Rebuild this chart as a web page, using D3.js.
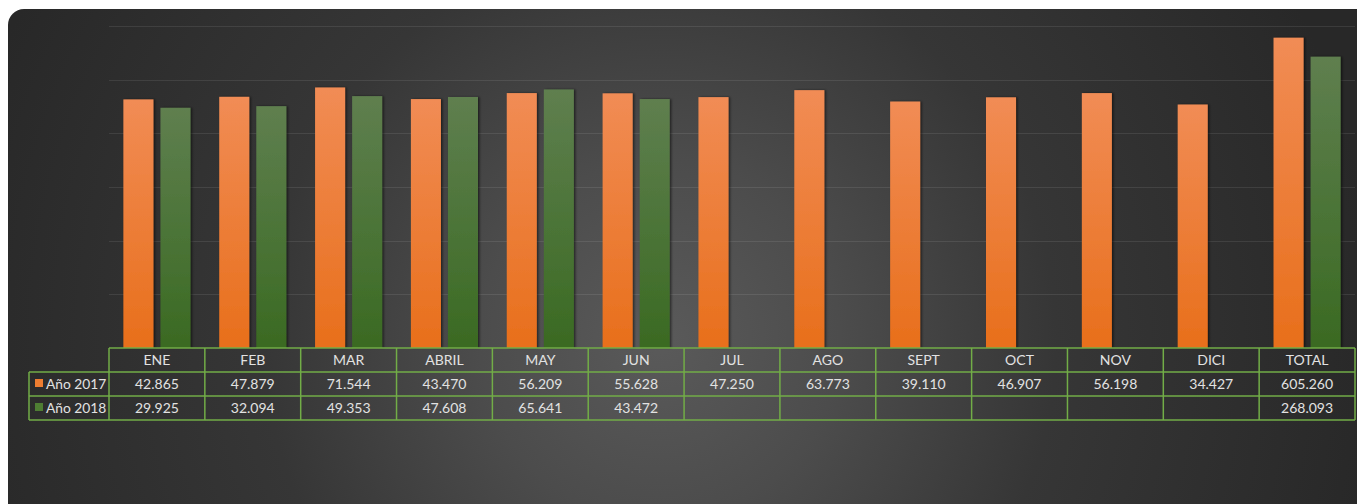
<!DOCTYPE html>
<html>
<head>
<meta charset="utf-8">
<script src="https://cdn.jsdelivr.net/npm/d3@7"></script>
<style>
  html, body { margin: 0; padding: 0; background: #ffffff; }
  svg { display: block; }
  text { font-family: Lato, "Open Sans", sans-serif; }
</style>
</head>
<body>
<svg id="chart" width="1357" height="504"></svg>
<script>
// Monthly totals per year, with the yearly total as the last column
const categories = ["ENE", "FEB", "MAR", "ABRIL", "MAY", "JUN", "JUL", "AGO", "SEPT", "OCT", "NOV", "DICI", "TOTAL"];
const seriesNames = ["Año 2017", "Año 2018"];
const values2017 = [42865, 47879, 71544, 43470, 56209, 55628, 47250, 63773, 39110, 46907, 56198, 34427, 605260];
const values2018 = [29925, 32094, 49353, 47608, 65641, 43472, null, null, null, null, null, null, 268093];
const yTicks = [1e1, 1e2, 1e3, 1e4, 1e5, 1e6];

const plotLeft = 109, plotRight = 1355, plotTop = 26, plotBase = 348;
const rowH = 24;

const es = d3.formatLocale({ decimal: ",", thousands: ".", grouping: [3], currency: ["", "€"] });
const fmt = es.format(",d");

const svg = d3.select("#chart");
const defs = svg.append("defs");

const bg = defs.append("radialGradient").attr("id", "bg")
  .attr("gradientUnits", "userSpaceOnUse")
  .attr("cx", 660).attr("cy", 340).attr("r", 720).attr("fx", 660).attr("fy", 340);
bg.append("stop").attr("offset", 0).attr("stop-color", "#5a5a5a");
bg.append("stop").attr("offset", 0.25).attr("stop-color", "#4c4c4c");
bg.append("stop").attr("offset", 0.55).attr("stop-color", "#363636");
bg.append("stop").attr("offset", 1).attr("stop-color", "#282828");

const gOr = defs.append("linearGradient").attr("id", "gOrange").attr("x1", 0).attr("y1", 0).attr("x2", 0).attr("y2", 1);
gOr.append("stop").attr("offset", 0).attr("stop-color", "#f18c55");
gOr.append("stop").attr("offset", 1).attr("stop-color", "#e86f1b");
const gGr = defs.append("linearGradient").attr("id", "gGreen").attr("x1", 0).attr("y1", 0).attr("x2", 0).attr("y2", 1);
gGr.append("stop").attr("offset", 0).attr("stop-color", "#5f7f4f");
gGr.append("stop").attr("offset", 1).attr("stop-color", "#3a6a22");

const sh = defs.append("filter").attr("id", "shadow").attr("x", "-20%").attr("y", "-5%").attr("width", "140%").attr("height", "110%");
sh.append("feDropShadow").attr("dx", 1.5).attr("dy", 0).attr("stdDeviation", 1.2)
  .attr("flood-color", "#000").attr("flood-opacity", 0.55);

// panel
svg.append("rect").attr("x", 8).attr("y", 9).attr("width", 1365).attr("height", 520)
  .attr("rx", 16).attr("fill", "url(#bg)");

// scales
const y = d3.scaleLog().domain([1, 1e6]).range([plotBase, plotTop]);
const col = d3.scaleBand().domain(categories).range([plotLeft, plotRight]);
const x = d3.scaleBand().domain(categories).range([plotLeft, plotRight]).paddingInner(0.3).paddingOuter(0.15);
const xs = d3.scaleBand().domain(seriesNames).range([0, x.bandwidth()]).paddingInner(0.19);

// gridlines
svg.append("g").selectAll("line").data(yTicks).join("line")
  .attr("x1", plotLeft).attr("x2", plotRight)
  .attr("y1", d => Math.round(y(d)) + 0.5).attr("y2", d => Math.round(y(d)) + 0.5)
  .attr("stroke", "rgba(255,255,255,0.09)").attr("stroke-width", 1);

// bars
const series = [
  { name: seriesNames[0], values: values2017, fill: "url(#gOrange)", swatch: "#ed7d31" },
  { name: seriesNames[1], values: values2018, fill: "url(#gGreen)", swatch: "#4e7d33" }
];
const barData = [];
series.forEach(s => s.values.forEach((v, i) => {
  if (v != null) barData.push({ cat: categories[i], name: s.name, v, fill: s.fill });
}));
svg.append("g").selectAll("rect").data(barData).join("rect")
  .attr("x", d => x(d.cat) + xs(d.name))
  .attr("y", d => y(d.v))
  .attr("width", xs.bandwidth())
  .attr("height", d => y(1) - y(d.v))
  .attr("fill", d => d.fill)
  .attr("filter", "url(#shadow)");

// data table
const tbl = svg.append("g");
const lineColor = "#72ad47";
const textColor = "#e2e2e2";
const tableBottom = plotBase + rowH * 3;

// header labels
tbl.selectAll("text.head").data(categories).join("text")
  .attr("class", "head")
  .attr("x", d => col(d) + col.bandwidth() / 2)
  .attr("y", plotBase + rowH / 2 + 5)
  .attr("text-anchor", "middle")
  .attr("font-size", 14)
  .attr("fill", textColor)
  .text(d => d);

// value rows
series.forEach((s, r) => {
  const cy = plotBase + rowH * (r + 1) + rowH / 2 + 5;
  tbl.append("g").selectAll("text").data(s.values.map((v, i) => ({ v, cat: categories[i] })).filter(d => d.v != null))
    .join("text")
    .attr("x", d => col(d.cat) + col.bandwidth() / 2)
    .attr("y", cy)
    .attr("text-anchor", "middle")
    .attr("font-size", 14)
    .attr("fill", textColor)
    .text(d => fmt(d.v));
  // legend key + series name
  tbl.append("rect").attr("x", 35).attr("y", cy - 10).attr("width", 8).attr("height", 8)
    .attr("fill", s.swatch);
  tbl.append("text").attr("x", 46).attr("y", cy).attr("font-size", 13.8)
    .attr("fill", textColor).text(s.name);
});

// grid lines of the table
const hLines = [
  { x1: plotLeft, x2: plotRight, y: plotBase },
  { x1: 29, x2: plotRight, y: plotBase + rowH },
  { x1: 29, x2: plotRight, y: plotBase + rowH * 2 },
  { x1: 29, x2: plotRight, y: tableBottom }
];
tbl.append("g").selectAll("line").data(hLines).join("line")
  .attr("x1", d => d.x1).attr("x2", d => d.x2)
  .attr("y1", d => d.y).attr("y2", d => d.y)
  .attr("stroke", lineColor).attr("stroke-width", 1.5);
const vEdges = categories.map(c => col(c)).concat([plotRight]);
tbl.append("g").selectAll("line").data(vEdges).join("line")
  .attr("x1", d => d).attr("x2", d => d)
  .attr("y1", plotBase).attr("y2", tableBottom)
  .attr("stroke", lineColor).attr("stroke-width", 1.5);
tbl.append("line").attr("x1", 29).attr("x2", 29)
  .attr("y1", plotBase + rowH).attr("y2", tableBottom)
  .attr("stroke", lineColor).attr("stroke-width", 1.5);
</script>
</body>
</html>
